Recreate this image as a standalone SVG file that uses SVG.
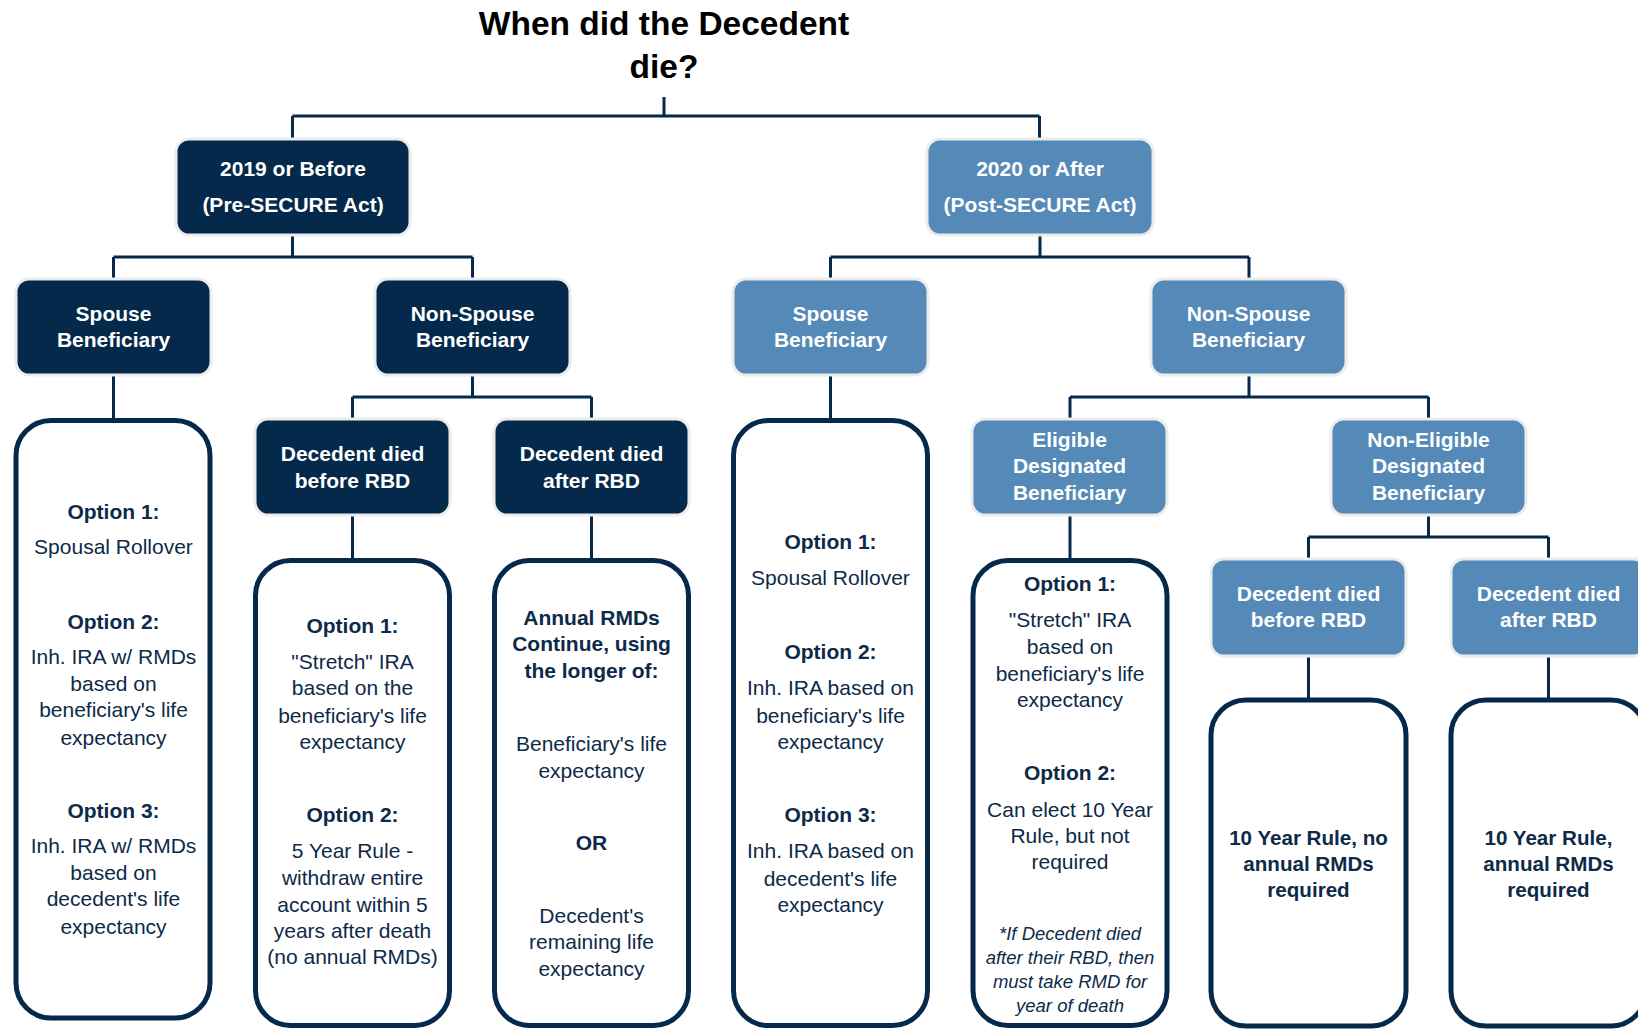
<svg xmlns="http://www.w3.org/2000/svg" width="1638" height="1029" viewBox="0 0 1638 1029">
<style>
  .dark { fill: #04294b; stroke: #ececec; stroke-width: 3; }
  .blue { fill: #5589b8; stroke: #ececec; stroke-width: 3; }
  .opt { fill: #ffffff; stroke: #04294b; stroke-width: 5; }
  .lbl { font-family: "Liberation Sans", Arial, sans-serif; font-weight: bold; font-size: 21px; fill: #ffffff; text-anchor: middle; }
  .t { font-family: "Liberation Sans", Arial, sans-serif; font-size: 21px; fill: #0d2a48; text-anchor: middle; }
  .b { font-weight: bold; }
  .it { font-style: italic; font-size: 18.5px; }
  .big { font-size: 20.6px; font-weight: bold; }
  .title { font-family: "Liberation Sans", Arial, sans-serif; font-weight: bold; font-size: 33.5px; fill: #000000; text-anchor: middle; }
  .conn { fill: none; stroke: #04294b; stroke-width: 3; }
</style>
<rect width="1638" height="1029" fill="#ffffff"/>

<g id="title">
  <text class="title" x="664" y="35">When did the Decedent</text>
  <text class="title" x="664" y="78">die?</text>
</g>

<g id="connectors">
  <path class="conn" d="M664 97 V116 M292.5 116 H1039.5 M292.5 116 V139 M1039.5 116 V139"/>
  <path class="conn" d="M292.5 235 V257 M113.5 257 H472.5 M113.5 257 V279 M472.5 257 V279"/>
  <path class="conn" d="M1040 235 V257 M830.5 257 H1249 M830.5 257 V279 M1249 257 V279"/>
  <path class="conn" d="M113.5 375 V418"/>
  <path class="conn" d="M472.5 375 V397 M352.5 397 H591.5 M352.5 397 V419 M591.5 397 V419"/>
  <path class="conn" d="M352.5 515 V558 M591.5 515 V558"/>
  <path class="conn" d="M830.5 375 V418"/>
  <path class="conn" d="M1249 375 V397 M1070 397 H1428.5 M1070 397 V419 M1428.5 397 V419"/>
  <path class="conn" d="M1070 515 V558"/>
  <path class="conn" d="M1428.5 515 V537 M1308.5 537 H1548.5 M1308.5 537 V559 M1548.5 537 V559"/>
  <path class="conn" d="M1308.5 656 V698 M1548.5 656 V698"/>
</g>

<g id="n-2019">
  <rect class="dark" x="176" y="139" width="234" height="96" rx="13"/>
  <text class="lbl" x="293" y="175.5">2019 or Before</text>
  <text class="lbl" x="293" y="211.5">(Pre-SECURE Act)</text>
</g>
<g id="n-2020">
  <rect class="blue" x="927" y="139" width="226" height="96" rx="13"/>
  <text class="lbl" x="1040" y="175.5">2020 or After</text>
  <text class="lbl" x="1040" y="211.5">(Post-SECURE Act)</text>
</g>

<g id="n-pre-spouse">
  <rect class="dark" x="16" y="279" width="195" height="96" rx="13"/>
  <text class="lbl" x="113.5" y="321">Spouse</text>
  <text class="lbl" x="113.5" y="347">Beneficiary</text>
</g>
<g id="n-pre-nonspouse">
  <rect class="dark" x="375" y="279" width="195" height="96" rx="13"/>
  <text class="lbl" x="472.5" y="321">Non-Spouse</text>
  <text class="lbl" x="472.5" y="347">Beneficiary</text>
</g>
<g id="n-post-spouse">
  <rect class="blue" x="733" y="279" width="195" height="96" rx="13"/>
  <text class="lbl" x="830.5" y="321">Spouse</text>
  <text class="lbl" x="830.5" y="347">Beneficiary</text>
</g>
<g id="n-post-nonspouse">
  <rect class="blue" x="1151" y="279" width="195" height="96" rx="13"/>
  <text class="lbl" x="1248.5" y="321">Non-Spouse</text>
  <text class="lbl" x="1248.5" y="347">Beneficiary</text>
</g>

<g id="n-pre-spouse-options">
  <rect class="opt" x="16" y="420.5" width="194" height="597.5" rx="35"/>
  <text class="t b" x="113.5" y="519">Option 1:</text>
  <text class="t" x="113.5" y="554">Spousal Rollover</text>
  <text class="t b" x="113.5" y="629">Option 2:</text>
  <text class="t" x="113.5" y="664">Inh. IRA w/ RMDs</text>
  <text class="t" x="113.5" y="691">based on</text>
  <text class="t" x="113.5" y="717">beneficiary's life</text>
  <text class="t" x="113.5" y="745">expectancy</text>
  <text class="t b" x="113.5" y="818">Option 3:</text>
  <text class="t" x="113.5" y="853">Inh. IRA w/ RMDs</text>
  <text class="t" x="113.5" y="880">based on</text>
  <text class="t" x="113.5" y="906">decedent's life</text>
  <text class="t" x="113.5" y="934">expectancy</text>
</g>

<g id="n-pre-before-rbd">
  <rect class="dark" x="255" y="419" width="195" height="96" rx="13"/>
  <text class="lbl" x="352.5" y="460.5">Decedent died</text>
  <text class="lbl" x="352.5" y="488">before RBD</text>
</g>
<g id="n-pre-after-rbd">
  <rect class="dark" x="494" y="419" width="195" height="96" rx="13"/>
  <text class="lbl" x="591.5" y="460.5">Decedent died</text>
  <text class="lbl" x="591.5" y="488">after RBD</text>
</g>

<g id="n-pre-before-options">
  <rect class="opt" x="255.5" y="560.5" width="194" height="465" rx="35"/>
  <text class="t b" x="352.5" y="633">Option 1:</text>
  <text class="t" x="352.5" y="669">"Stretch" IRA</text>
  <text class="t" x="352.5" y="695">based on the</text>
  <text class="t" x="352.5" y="723">beneficiary's life</text>
  <text class="t" x="352.5" y="749">expectancy</text>
  <text class="t b" x="352.5" y="822">Option 2:</text>
  <text class="t" x="352.5" y="858">5 Year Rule -</text>
  <text class="t" x="352.5" y="885">withdraw entire</text>
  <text class="t" x="352.5" y="912">account within 5</text>
  <text class="t" x="352.5" y="938">years after death</text>
  <text class="t" x="352.5" y="964">(no annual RMDs)</text>
</g>

<g id="n-pre-after-options">
  <rect class="opt" x="494.5" y="560.5" width="194" height="465" rx="35"/>
  <text class="t b" x="591.5" y="625">Annual RMDs</text>
  <text class="t b" x="591.5" y="651">Continue, using</text>
  <text class="t b" x="591.5" y="678">the longer of:</text>
  <text class="t" x="591.5" y="751">Beneficiary's life</text>
  <text class="t" x="591.5" y="778">expectancy</text>
  <text class="t b" x="591.5" y="850">OR</text>
  <text class="t" x="591.5" y="923">Decedent's</text>
  <text class="t" x="591.5" y="949">remaining life</text>
  <text class="t" x="591.5" y="976">expectancy</text>
</g>

<g id="n-post-spouse-options">
  <rect class="opt" x="733.5" y="420.5" width="194" height="605" rx="35"/>
  <text class="t b" x="830.5" y="549">Option 1:</text>
  <text class="t" x="830.5" y="585">Spousal Rollover</text>
  <text class="t b" x="830.5" y="659">Option 2:</text>
  <text class="t" x="830.5" y="695">Inh. IRA based on</text>
  <text class="t" x="830.5" y="723">beneficiary's life</text>
  <text class="t" x="830.5" y="749">expectancy</text>
  <text class="t b" x="830.5" y="822">Option 3:</text>
  <text class="t" x="830.5" y="858">Inh. IRA based on</text>
  <text class="t" x="830.5" y="886">decedent's life</text>
  <text class="t" x="830.5" y="912">expectancy</text>
</g>

<g id="n-eligible">
  <rect class="blue" x="972" y="419" width="195" height="96" rx="13"/>
  <text class="lbl" x="1069.5" y="447">Eligible</text>
  <text class="lbl" x="1069.5" y="473">Designated</text>
  <text class="lbl" x="1069.5" y="500">Beneficiary</text>
</g>
<g id="n-non-eligible">
  <rect class="blue" x="1331" y="419" width="195" height="96" rx="13"/>
  <text class="lbl" x="1428.5" y="447">Non-Eligible</text>
  <text class="lbl" x="1428.5" y="473">Designated</text>
  <text class="lbl" x="1428.5" y="500">Beneficiary</text>
</g>

<g id="n-eligible-options">
  <rect class="opt" x="973" y="560.5" width="194" height="465" rx="35"/>
  <text class="t b" x="1070" y="591">Option 1:</text>
  <text class="t" x="1070" y="627">"Stretch" IRA</text>
  <text class="t" x="1070" y="654">based on</text>
  <text class="t" x="1070" y="681">beneficiary's life</text>
  <text class="t" x="1070" y="707">expectancy</text>
  <text class="t b" x="1070" y="780">Option 2:</text>
  <text class="t" x="1070" y="817">Can elect 10 Year</text>
  <text class="t" x="1070" y="843">Rule, but not</text>
  <text class="t" x="1070" y="869">required</text>
  <text class="t it" x="1070" y="940">*If Decedent died</text>
  <text class="t it" x="1070" y="964">after their RBD, then</text>
  <text class="t it" x="1070" y="988">must take RMD for</text>
  <text class="t it" x="1070" y="1012">year of death</text>
</g>

<g id="n-ne-before-rbd">
  <rect class="blue" x="1211" y="559" width="195" height="97" rx="13"/>
  <text class="lbl" x="1308.5" y="600.5">Decedent died</text>
  <text class="lbl" x="1308.5" y="627">before RBD</text>
</g>
<g id="n-ne-after-rbd">
  <rect class="blue" x="1451" y="559" width="195" height="97" rx="13"/>
  <text class="lbl" x="1548.5" y="600.5">Decedent died</text>
  <text class="lbl" x="1548.5" y="627">after RBD</text>
</g>

<g id="n-ne-before-options">
  <rect class="opt" x="1211" y="700" width="195" height="326" rx="35"/>
  <text class="t big" x="1308.5" y="845">10 Year Rule, no</text>
  <text class="t big" x="1308.5" y="871">annual RMDs</text>
  <text class="t big" x="1308.5" y="897">required</text>
</g>
<g id="n-ne-after-options">
  <rect class="opt" x="1451" y="700" width="195" height="326" rx="35"/>
  <text class="t big" x="1548.5" y="845">10 Year Rule,</text>
  <text class="t big" x="1548.5" y="871">annual RMDs</text>
  <text class="t big" x="1548.5" y="897">required</text>
</g>
</svg>
